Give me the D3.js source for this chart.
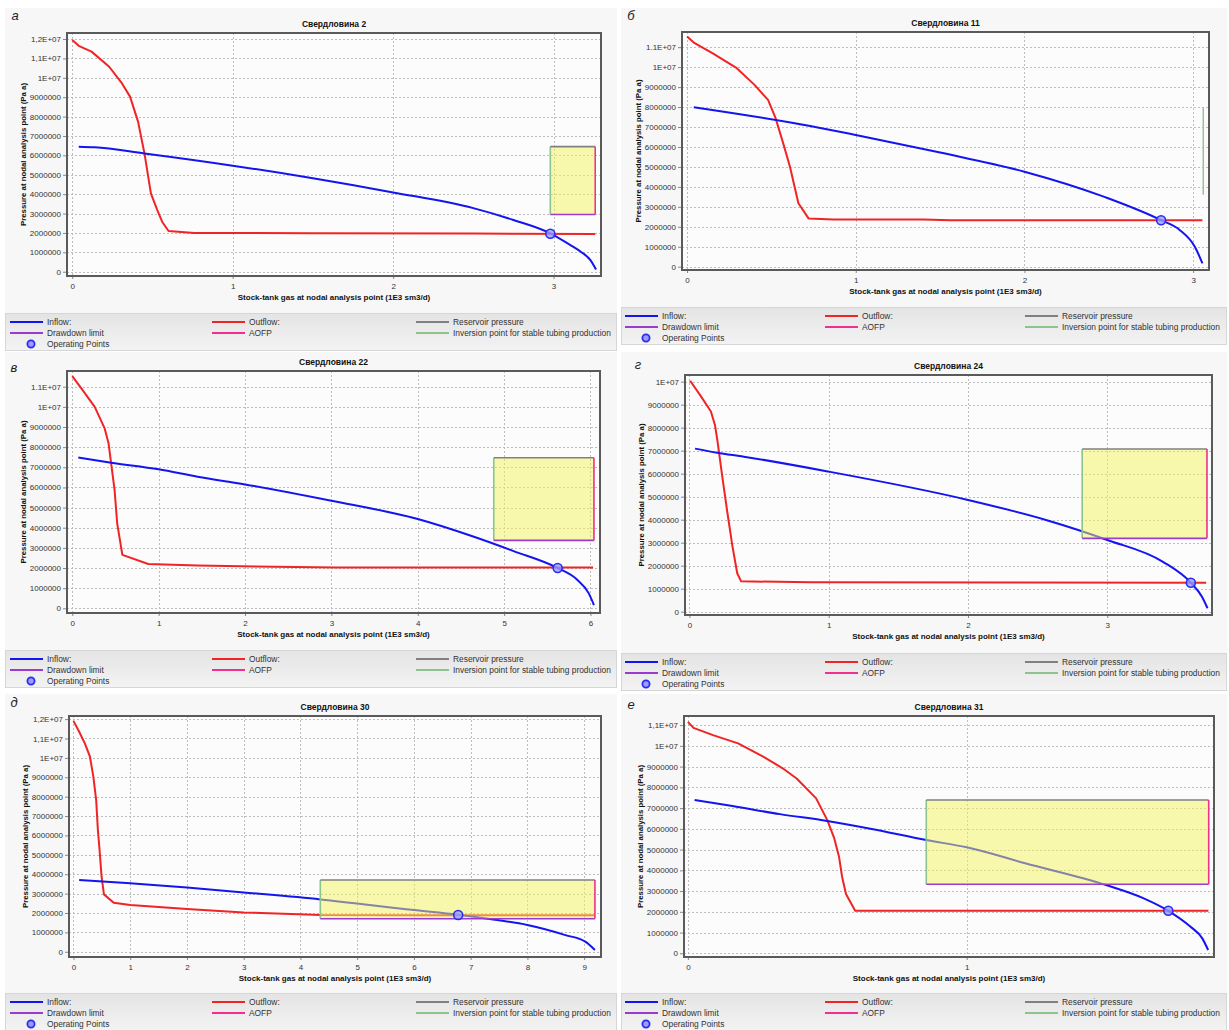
<!DOCTYPE html>
<html>
<head>
<meta charset="utf-8">
<script src="https://cdn.jsdelivr.net/npm/d3@7"></script>
<style>
  body { margin: 0; background: #fff; }
  svg { display: block; font-family: "Liberation Sans", Arial, sans-serif; }
</style>
</head>
<body>
<svg id="chart" width="1229" height="1030"></svg>
<script>
// ---- data (q in 1E3 sm3/d, pressure in Pa a) ----
const yLabelsComma = ["0","1000000","2000000","3000000","4000000","5000000","6000000","7000000","8000000","9000000","1E+07","1,1E+07","1,2E+07"];
const yLabelsDot   = ["0","1000000","2000000","3000000","4000000","5000000","6000000","7000000","8000000","9000000","1E+07","1.1E+07","1.2E+07"];

const legendItems = ["Inflow:", "Outflow:", "Reservoir pressure", "Drawdown limit", "AOFP", "Inversion point for stable tubing production", "Operating Points"];

// Свердловина 2
const w2Inflow = [[0.04,6.45e6],[0.14,6.42e6],[0.45,6.1e6],[1.0,5.47e6],[1.5,4.82e6],[2.0,4.09e6],[2.5,3.28e6],[2.75,2.67e6],[2.98,1.98e6],[3.10,1.4e6],[3.17,1.03e6],[3.23,0.6e6],[3.265,0.12e6]];
const w2Outflow = [[0,11.95e6],[0.04,11.65e6],[0.12,11.35e6],[0.23,10.57e6],[0.31,9.71e6],[0.36,9.03e6],[0.41,7.74e6],[0.45,6.1e6],[0.49,4.04e6],[0.53,3.18e6],[0.56,2.58e6],[0.60,2.1e6],[0.76,2.0e6],[1.5,1.99e6],[2.5,1.97e6],[3.26,1.95e6]];
const w2Op = [2.98, 1.96e6];
const w2Box = [2.98, 3.26, 2.95e6, 6.45e6]; // inversion q, AOFP q, drawdown p, reservoir p
const w2XTicks = [0, 1, 2, 3];

// Свердловина 11
const w11Inflow = [[0.04,7.99e6],[0.73,7.05e6],[1.0,6.6e6],[1.5,5.72e6],[2.0,4.76e6],[2.47,3.51e6],[2.81,2.33e6],[2.92,1.84e6],[3.01,1.0e6],[3.055,0.17e6]];
const w11Outflow = [[0,11.53e6],[0.04,11.23e6],[0.15,10.7e6],[0.29,9.98e6],[0.40,9.11e6],[0.48,8.36e6],[0.525,7.44e6],[0.57,6.18e6],[0.61,5.01e6],[0.66,3.18e6],[0.72,2.42e6],[0.87,2.37e6],[1.4,2.37e6],[1.56,2.33e6],[3.055,2.33e6]];
const w11Op = [2.81, 2.33e6];
const w11Inversion = [3.06, 3.6e6, 7.99e6]; // q, p from, p to
const w11XTicks = [0, 1, 2, 3];

// Свердловина 22
const w22Inflow = [[0.07,7.49e6],[0.45,7.23e6],[1.0,6.9e6],[1.45,6.53e6],[2.0,6.15e6],[3.0,5.34e6],[4.0,4.43e6],[4.65,3.55e6],[5.11,2.84e6],[5.62,2.0e6],[5.84,1.44e6],[5.98,0.74e6],[6.04,0.16e6]];
const w22Outflow = [[0,11.53e6],[0.12,10.83e6],[0.26,10.0e6],[0.375,8.93e6],[0.42,8.19e6],[0.455,7.03e6],[0.49,5.87e6],[0.52,4.22e6],[0.58,2.65e6],[0.88,2.2e6],[1.45,2.12e6],[3.05,2.02e6],[6.03,2.02e6]];
const w22Op = [5.62, 2.0e6];
const w22Box = [4.88, 6.04, 3.37e6, 7.47e6];
const w22XTicks = [0, 1, 2, 3, 4, 5, 6];

// Свердловина 24
const w24Inflow = [[0.04,7.09e6],[0.2,6.91e6],[0.39,6.74e6],[1.0,6.09e6],[2.0,4.86e6],[2.56,3.99e6],[3.0,3.12e6],[3.4,2.17e6],[3.6,1.26e6],[3.68,0.65e6],[3.72,0.15e6]];
const w24Outflow = [[0.005,10.04e6],[0.084,9.35e6],[0.154,8.7e6],[0.183,8.12e6],[0.2,7.47e6],[0.239,5.73e6],[0.273,4.28e6],[0.309,2.83e6],[0.343,1.67e6],[0.371,1.32e6],[0.87,1.28e6],[3.71,1.26e6]];
const w24Op = [3.6, 1.26e6];
const w24Box = [2.82, 3.716, 3.19e6, 7.07e6];
const w24XTicks = [0, 1, 2, 3];

// Свердловина 30
const w30Inflow = [[0.1,3.7e6],[1.0,3.53e6],[2.0,3.32e6],[3.0,3.06e6],[4.35,2.7e6],[6.0,2.15e6],[6.77,1.91e6],[7.34,1.69e6],[8.0,1.38e6],[8.67,0.86e6],[9.02,0.52e6],[9.19,0.09e6]];
const w30Outflow = [[0,11.91e6],[0.1,11.35e6],[0.2,10.75e6],[0.29,10.06e6],[0.35,9.03e6],[0.4,7.82e6],[0.43,6.28e6],[0.46,5.24e6],[0.495,3.87e6],[0.537,2.96e6],[0.71,2.53e6],[1.0,2.41e6],[2.0,2.2e6],[3.0,2.03e6],[4.35,1.89e6],[6.0,1.88e6],[9.19,1.88e6]];
const w30Op = [6.78, 1.9e6];
const w30Box = [4.35, 9.19, 1.70e6, 3.70e6];
const w30XTicks = [0, 1, 2, 3, 4, 5, 6, 7, 8, 9];

// Свердловина 31
const w31Inflow = [[0.024,7.39e6],[0.16,7.1e6],[0.33,6.71e6],[0.5,6.38e6],[0.65,6.02e6],[0.855,5.46e6],[1.0,5.11e6],[1.21,4.34e6],[1.5,3.29e6],[1.635,2.65e6],[1.723,2.05e6],[1.803,1.28e6],[1.845,0.72e6],[1.866,0.16e6]];
const w31Outflow = [[0,11.16e6],[0.02,10.87e6],[0.09,10.52e6],[0.18,10.12e6],[0.27,9.48e6],[0.34,8.92e6],[0.39,8.43e6],[0.46,7.47e6],[0.5,6.42e6],[0.525,5.54e6],[0.542,4.66e6],[0.553,3.69e6],[0.567,2.86e6],[0.6,2.05e6],[1.867,2.05e6]];
const w31Op = [1.723, 2.05e6];
const w31Box = [0.855, 1.868, 3.33e6, 7.39e6];
const w31XTicks = [0, 1];

// ---- layout ----
const panels = [
  { letter: "а", title: "Свердловина 2",  inflow: w2Inflow,  outflow: w2Outflow,  op: w2Op,  box: w2Box,  inv: null, xTicks: w2XTicks,  yLabels: yLabelsComma, yTop: 12,
    frame: [67, 33, 601, 276],  xDom: [-0.033, 3.296], yDom: [-0.22e6, 12.31e6], panel: [5, 8, 617, 349],   legendTop: 313, letterPos: [15, 20], cols: [5, 207, 411] },
  { letter: "б", title: "Свердловина 11", inflow: w11Inflow, outflow: w11Outflow, op: w11Op, box: null,   inv: w11Inversion, xTicks: w11XTicks, yLabels: yLabelsDot, yTop: 11,
    frame: [682, 32, 1209, 270], xDom: [-0.030, 3.094], yDom: [-0.165e6, 11.76e6], panel: [621, 8, 1227, 344], legendTop: 307, letterPos: [631, 20], cols: [4, 204, 404] },
  { letter: "в", title: "Свердловина 22", inflow: w22Inflow, outflow: w22Outflow, op: w22Op, box: w22Box, inv: null, xTicks: w22XTicks, yLabels: yLabelsDot, yTop: 11,
    frame: [67, 371, 600, 613], xDom: [-0.061, 6.11], yDom: [-0.233e6, 11.78e6], panel: [5, 352, 617, 688],   legendTop: 650, letterPos: [14, 372], cols: [5, 207, 411] },
  { letter: "г", title: "Свердловина 24", inflow: w24Inflow, outflow: w24Outflow, op: w24Op, box: w24Box, inv: null, xTicks: w24XTicks, yLabels: yLabelsDot, yTop: 10,
    frame: [685, 375, 1212, 615], xDom: [-0.032, 3.752], yDom: [-0.143e6, 10.29e6], panel: [621, 352, 1227, 691], legendTop: 653, letterPos: [638, 369], cols: [4, 204, 404] },
  { letter: "д", title: "Свердловина 30", inflow: w30Inflow, outflow: w30Outflow, op: w30Op, box: w30Box, inv: null, xTicks: w30XTicks, yLabels: yLabelsComma, yTop: 12,
    frame: [69, 716, 601, 957], xDom: [-0.079, 9.297], yDom: [-0.27e6, 12.16e6], panel: [5, 694, 617, 1030],  legendTop: 993, letterPos: [14, 707], cols: [5, 207, 411] },
  { letter: "е", title: "Свердловина 31", inflow: w31Inflow, outflow: w31Outflow, op: w31Op, box: w31Box, inv: null, xTicks: w31XTicks, yLabels: yLabelsComma, yTop: 11,
    frame: [684, 716, 1214, 957], xDom: [-0.014, 1.887], yDom: [-0.178e6, 11.44e6], panel: [621, 694, 1227, 1030], legendTop: 993, letterPos: [631, 709], cols: [4, 204, 404] }
];

const C = {
  inflow: "#1414f0", outflow: "#f02424", reservoir: "#808080", drawdown: "#9a3ad0",
  aofp: "#f0308c", inversion: "#8cc48c", box: "#f3f35c", grid: "#bdbdbd", frame: "#5a5a5a"
};

const svg = d3.select("#chart");

const defs = svg.append("defs");
const grad = defs.append("linearGradient").attr("id", "legendGrad").attr("x1", 0).attr("y1", 0).attr("x2", 0).attr("y2", 1);
grad.append("stop").attr("offset", "0%").attr("stop-color", "#e4e4e4");
grad.append("stop").attr("offset", "100%").attr("stop-color", "#f3f3f3");

panels.forEach((p, idx) => {
  const [L, T, R, B] = p.frame;
  const g = svg.append("g");

  // panel background
  g.append("rect").attr("x", p.panel[0]).attr("y", p.panel[1])
    .attr("width", p.panel[2] - p.panel[0]).attr("height", p.panel[3] - p.panel[1])
    .attr("fill", "#f7f7f7");
  g.append("rect").attr("x", L).attr("y", T).attr("width", R - L).attr("height", B - T).attr("fill", "#fcfcfc");

  const x = d3.scaleLinear().domain(p.xDom).range([L, R]);
  const y = d3.scaleLinear().domain(p.yDom).range([B, T]);
  const yTicks = d3.range(0, p.yTop + 1).map(d => d * 1e6);

  const clipId = "clip" + idx;
  defs.append("clipPath").attr("id", clipId).append("rect")
    .attr("x", L).attr("y", T).attr("width", R - L).attr("height", B - T);

  // grid
  const grid = g.append("g").attr("stroke", C.grid).attr("stroke-dasharray", "2,2").attr("stroke-width", 1);
  yTicks.forEach(v => grid.append("line").attr("x1", L).attr("x2", R).attr("y1", Math.round(y(v)) + 0.5).attr("y2", Math.round(y(v)) + 0.5));
  p.xTicks.forEach(v => grid.append("line").attr("y1", T).attr("y2", B).attr("x1", Math.round(x(v)) + 0.5).attr("x2", Math.round(x(v)) + 0.5));

  // axes
  const yAxis = g.append("g").attr("transform", `translate(${L},0)`)
    .call(d3.axisLeft(y).tickValues(yTicks).tickFormat((d, i) => p.yLabels[i]).tickSize(4).tickPadding(2));
  const xAxis = g.append("g").attr("transform", `translate(0,${B})`)
    .call(d3.axisBottom(x).tickValues(p.xTicks).tickFormat(d3.format("d")).tickSize(3).tickPadding(4));
  [yAxis, xAxis].forEach(a => {
    a.select(".domain").remove();
    a.selectAll("line").attr("stroke", "#888");
    a.selectAll("text").attr("fill", "#333").style("font-size", "8px")
      .style("font-family", "'Liberation Sans', Arial, sans-serif");
  });

  // curves
  const plot = g.append("g").attr("clip-path", `url(#${clipId})`);
  const inLine = d3.line().x(d => x(d[0])).y(d => y(d[1])).curve(d3.curveMonotoneX);
  const outLine = d3.line().x(d => x(d[0])).y(d => y(d[1]));
  plot.append("path").datum(p.outflow).attr("d", outLine).attr("fill", "none")
    .attr("stroke", C.outflow).attr("stroke-width", 2).attr("stroke-linejoin", "round");
  plot.append("path").datum(p.inflow).attr("d", inLine).attr("fill", "none")
    .attr("stroke", C.inflow).attr("stroke-width", 2).attr("stroke-linejoin", "round");

  // stable operating window
  if (p.box) {
    const [q0, q1, pd, pr] = p.box;
    plot.append("rect").attr("x", x(q0)).attr("y", y(pr)).attr("width", x(q1) - x(q0)).attr("height", y(pd) - y(pr))
      .attr("fill", C.box).attr("fill-opacity", 0.5);
    plot.append("line").attr("x1", x(q0)).attr("x2", x(q0)).attr("y1", y(pd)).attr("y2", y(pr)).attr("stroke", C.inversion).attr("stroke-width", 1.6);
    plot.append("line").attr("x1", x(q0)).attr("x2", x(q1)).attr("y1", y(pr)).attr("y2", y(pr)).attr("stroke", C.reservoir).attr("stroke-width", 1.6);
    plot.append("line").attr("x1", x(q0)).attr("x2", x(q1)).attr("y1", y(pd)).attr("y2", y(pd)).attr("stroke", C.drawdown).attr("stroke-width", 1.6);
    plot.append("line").attr("x1", x(q1)).attr("x2", x(q1)).attr("y1", y(pd)).attr("y2", y(pr)).attr("stroke", C.aofp).attr("stroke-width", 1.6);
  }
  if (p.inv) {
    plot.append("line").attr("x1", x(p.inv[0])).attr("x2", x(p.inv[0])).attr("y1", y(p.inv[1])).attr("y2", y(p.inv[2]))
      .attr("stroke", C.inversion).attr("stroke-width", 1.4);
  }

  // operating point
  plot.append("circle").attr("cx", x(p.op[0])).attr("cy", y(p.op[1])).attr("r", 4.5)
    .attr("fill", "#9a9cff").attr("fill-opacity", 0.8).attr("stroke", "#2a2cf0").attr("stroke-width", 1.6);

  // frame
  g.append("rect").attr("x", L).attr("y", T).attr("width", R - L).attr("height", B - T)
    .attr("fill", "none").attr("stroke", C.frame).attr("stroke-width", 2);

  // titles
  const cx = (L + R) / 2;
  g.append("text").attr("x", cx).attr("y", T - 6).attr("text-anchor", "middle")
    .style("font-size", "8.5px").style("font-weight", "bold").attr("fill", "#111").text(p.title);
  g.append("text").attr("x", cx).attr("y", B + 24).attr("text-anchor", "middle")
    .style("font-size", "8px").style("font-weight", "bold").attr("fill", "#111")
    .text("Stock-tank gas at nodal analysis point (1E3 sm3/d)");
  g.append("text").attr("transform", `translate(${L - 41},${(T + B) / 2}) rotate(-90)`).attr("text-anchor", "middle")
    .style("font-size", "7.8px").style("font-weight", "bold").attr("fill", "#111")
    .text("Pressure at nodal analysis point (Pa a)");
  g.append("text").attr("x", p.letterPos[0]).attr("y", p.letterPos[1]).attr("text-anchor", "middle")
    .style("font-size", "13px").style("font-style", "italic").attr("fill", "#222").text(p.letter);

  // legend
  const lx = p.panel[0], lw = p.panel[2] - p.panel[0], ly = p.legendTop;
  const leg = g.append("g").attr("transform", `translate(${lx},${ly})`);
  leg.append("rect").attr("x", 0.5).attr("y", 0.5).attr("width", lw - 1).attr("height", 37)
    .attr("fill", "url(#legendGrad)").attr("stroke", "#d6d6d6");
  const legendColors = [C.inflow, C.outflow, C.reservoir, C.drawdown, C.aofp, C.inversion];
  legendItems.forEach((name, i) => {
    const col = i < 6 ? i % 3 : 0;
    const row = i < 6 ? Math.floor(i / 3) : 2;
    const ox = p.cols[col], oy = 9 + row * 11;
    if (i < 6) {
      leg.append("line").attr("x1", ox).attr("x2", ox + 33).attr("y1", oy).attr("y2", oy)
        .attr("stroke", legendColors[i]).attr("stroke-width", 2);
    } else {
      leg.append("circle").attr("cx", ox + 21).attr("cy", oy).attr("r", 3.6)
        .attr("fill", "#9a9cff").attr("stroke", "#2a2cf0").attr("stroke-width", 1.8);
    }
    leg.append("text").attr("x", ox + 37).attr("y", oy + 3).style("font-size", "8.4px")
      .attr("fill", "#333").text(name);
  });
});
</script>
</body>
</html>
